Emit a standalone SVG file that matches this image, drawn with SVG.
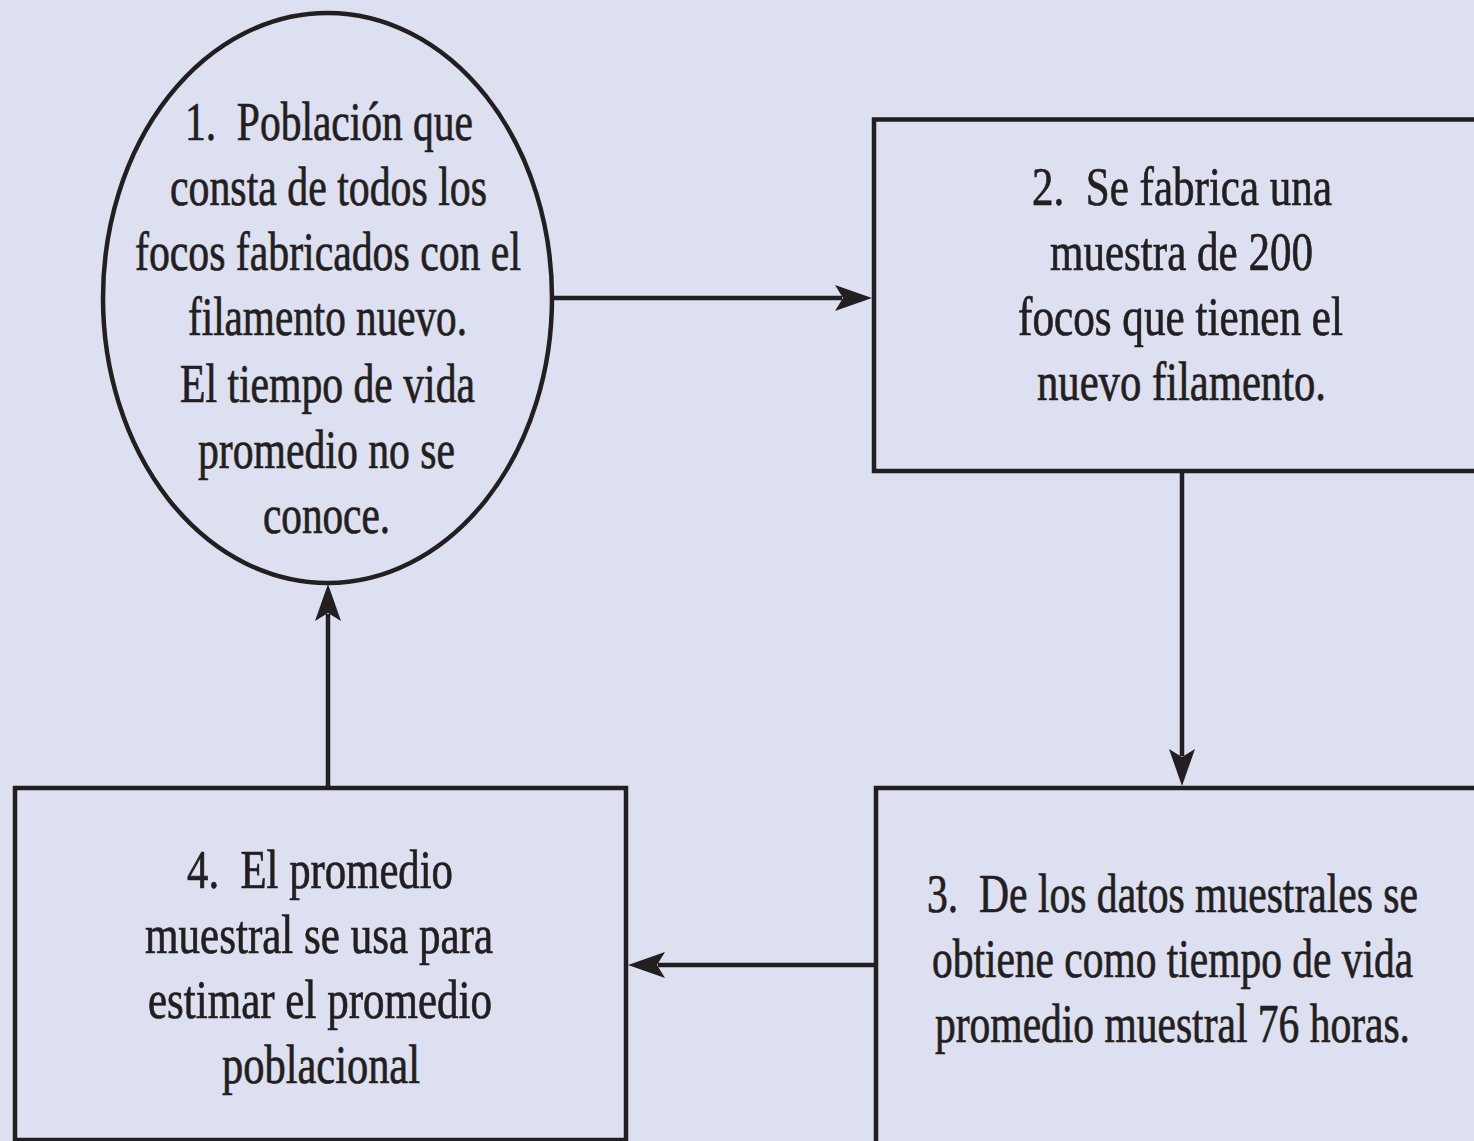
<svg xmlns="http://www.w3.org/2000/svg" width="1474" height="1141" viewBox="0 0 1474 1141">
<style>
.bg{fill:#dde0f0}
.shape{fill:none;stroke:#231f20;stroke-width:4.5}
.conn{stroke:#231f20;stroke-width:4.5;fill:none}
.t{font-family:"Liberation Serif","Times New Roman",serif;font-size:54px;fill:#231f20;stroke:#231f20;stroke-width:0.7;white-space:pre}
</style>
<defs>
<marker id="ah" viewBox="-8 -14 40 28" refX="0" refY="0" markerWidth="40" markerHeight="28" markerUnits="userSpaceOnUse" orient="auto">
<path d="M30,0 L-7,-13 L1,0 L-7,13 Z" fill="#231f20"/>
</marker>
</defs>
<rect class="bg" x="0" y="0" width="1474" height="1141"/>
<g id="connectors">
<line class="conn" x1="552" y1="298" x2="842" y2="298" marker-end="url(#ah)"/>
<line class="conn" x1="1182" y1="471" x2="1182" y2="756" marker-end="url(#ah)"/>
<line class="conn" x1="876" y1="965" x2="658" y2="965" marker-end="url(#ah)"/>
<line class="conn" x1="328" y1="788" x2="328" y2="614" marker-end="url(#ah)"/>
</g>
<g id="node1">
<ellipse class="shape" cx="327.5" cy="298" rx="224.5" ry="285"/>
<text class="t" xml:space="preserve" lengthAdjust="spacingAndGlyphs" x="185" y="140" textLength="288">1.  Población que</text>
<text class="t" lengthAdjust="spacingAndGlyphs" x="170" y="205" textLength="317">consta de todos los</text>
<text class="t" lengthAdjust="spacingAndGlyphs" x="135" y="270" textLength="386">focos fabricados con el</text>
<text class="t" lengthAdjust="spacingAndGlyphs" x="188" y="335" textLength="279">filamento nuevo.</text>
<text class="t" lengthAdjust="spacingAndGlyphs" x="180" y="402" textLength="295">El tiempo de vida</text>
<text class="t" lengthAdjust="spacingAndGlyphs" x="198" y="468" textLength="257">promedio no se</text>
<text class="t" lengthAdjust="spacingAndGlyphs" x="263" y="533" textLength="127">conoce.</text>
</g>
<g id="node2">
<path class="shape" d="M1474,119.5 H874 V471 H1474"/>
<text class="t" xml:space="preserve" lengthAdjust="spacingAndGlyphs" x="1032" y="205" textLength="300">2.  Se fabrica una</text>
<text class="t" lengthAdjust="spacingAndGlyphs" x="1050" y="270" textLength="263">muestra de 200</text>
<text class="t" lengthAdjust="spacingAndGlyphs" x="1018" y="335" textLength="325">focos que tienen el</text>
<text class="t" lengthAdjust="spacingAndGlyphs" x="1037" y="400" textLength="289">nuevo filamento.</text>
</g>
<g id="node3">
<path class="shape" d="M1474,788 H876 V1141"/>
<text class="t" xml:space="preserve" lengthAdjust="spacingAndGlyphs" transform="matrix(0.76 0 0 1 927 912)" x="0" y="0" textLength="646">3.  De los datos muestrales se</text>
<text class="t" lengthAdjust="spacingAndGlyphs" transform="matrix(0.76 0 0 1 932 977)" x="0" y="0" textLength="633">obtiene como tiempo de vida</text>
<text class="t" lengthAdjust="spacingAndGlyphs" transform="matrix(0.76 0 0 1 935 1042)" x="0" y="0" textLength="625">promedio muestral 76 horas.</text>
</g>
<g id="node4">
<rect class="shape" x="15" y="788" width="611" height="352"/>
<text class="t" xml:space="preserve" lengthAdjust="spacingAndGlyphs" x="187" y="888" textLength="266">4.  El promedio</text>
<text class="t" lengthAdjust="spacingAndGlyphs" x="145" y="953" textLength="348">muestral se usa para</text>
<text class="t" lengthAdjust="spacingAndGlyphs" x="148" y="1018" textLength="344">estimar el promedio</text>
<text class="t" lengthAdjust="spacingAndGlyphs" x="222" y="1083" textLength="198">poblacional</text>
</g>
</svg>
